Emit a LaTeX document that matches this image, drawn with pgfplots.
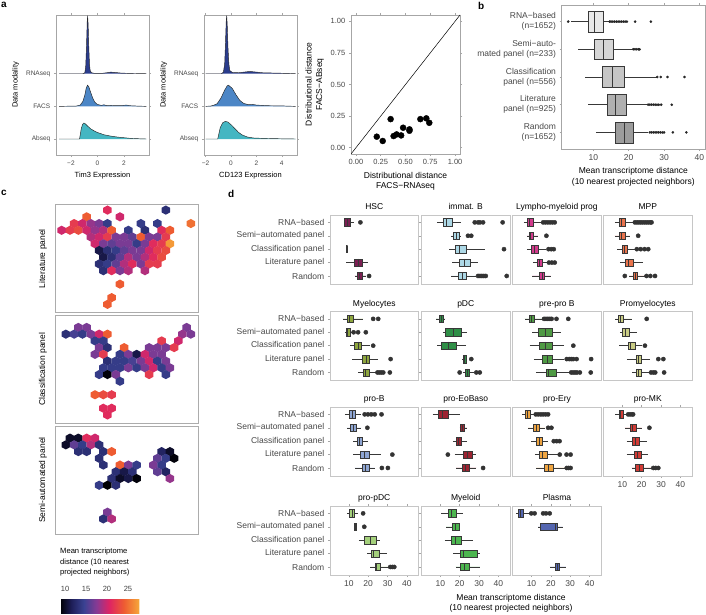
\documentclass[border=0pt]{standalone}
\usepackage{pgfplots}
\pgfplotsset{compat=1.18}
\usepgfplotslibrary{statistics}
\usepackage{fontspec}
\setmainfont{Liberation Sans}
\setsansfont{Liberation Sans}

\definecolor{cRNAs}{HTML}{2A3C8C}
\definecolor{cFACS}{HTML}{4C86C6}
\definecolor{cAbs}{HTML}{44B6C2}
\definecolor{cHSC}{HTML}{7B1F52}
\definecolor{cImmB}{HTML}{ADD8E6}
\definecolor{cLMP}{HTML}{D23A8C}
\definecolor{cMPP}{HTML}{E9734C}
\definecolor{cMyelo}{HTML}{8EA63E}
\definecolor{cPDC}{HTML}{2F8F47}
\definecolor{cPPB}{HTML}{4F9A44}
\definecolor{cPromy}{HTML}{C9CC84}
\definecolor{cProB}{HTML}{8FA6D3}
\definecolor{cEo}{HTML}{9C2331}
\definecolor{cEry}{HTML}{EEA441}
\definecolor{cMK}{HTML}{D23B35}
\definecolor{cPPDC}{HTML}{A4D07B}
\definecolor{cMyeloid}{HTML}{4CB64F}
\definecolor{cPlasma}{HTML}{5466B0}
\definecolor{gA}{HTML}{E8E8E8}
\definecolor{gB}{HTML}{D6D6D6}
\definecolor{gC}{HTML}{C6C6C6}
\definecolor{gD}{HTML}{B0B0B0}
\definecolor{gE}{HTML}{9C9C9C}

\pgfplotsset{colormap={hexmap}{rgb255(8.8)=(0,0,4) rgb255(11.5)=(30,30,88) rgb255(14.5)=(58,66,146) rgb255(17.5)=(135,58,148) rgb255(20.5)=(222,36,100) rgb255(24)=(238,92,50) rgb255(27.7)=(246,168,58)}}

\pgfdeclareplotmark{hexm}{%
  \pgfpathmoveto{\pgfqpoint{0pt}{4.6pt}}%
  \pgfpathlineto{\pgfqpoint{4.25pt}{2.3pt}}%
  \pgfpathlineto{\pgfqpoint{4.25pt}{-2.3pt}}%
  \pgfpathlineto{\pgfqpoint{0pt}{-4.6pt}}%
  \pgfpathlineto{\pgfqpoint{-4.25pt}{-2.3pt}}%
  \pgfpathlineto{\pgfqpoint{-4.25pt}{2.3pt}}%
  \pgfpathclose
  \pgfusepathqfill}

\pgfplotsset{
  base/.style={scale only axis, anchor=north west, tick align=outside, major tick length=2.2pt,
    /pgf/number format/assume math mode=true,
    tick style={draw=gray!70, line width=0.5pt},
    tick label style={font=\fontsize{8.5}{10}\selectfont, text=black!72},
    label style={font=\fontsize{8.5}{10.5}\selectfont},
    axis line style={draw=gray!70, line width=0.7pt}},
  dpanel/.style={base, width=88.5pt, height=69pt, xmin=0.3, xmax=46, ymin=0.45, ymax=5.6, y dir=reverse,
    xtick=\empty, ytick=\empty, axis line style={draw=gray!45, line width=0.8pt},
    title style={font=\fontsize{8.5}{10}\selectfont, at={(0.5,1)}, anchor=base, yshift=-0.5pt},
    boxplot/box extend=0.55, boxplot/whisker extend=0, boxplot/every median/.style={line width=0.9pt}},
  dl/.style={ytick={1,2,3,4,5}, yticklabels={RNA−based,Semi−automated panel,Classification panel,Literature panel,Random}},
  db/.style={xtick={10,20,30,40}},
  hexax/.style={base, width=142.6pt, height=108pt, xmin=-0.43, xmax=33.8, ymin=-0.8, ymax=15.24, y dir=reverse,
    xtick=\empty, ytick=\empty, axis line style={draw=gray!65, line width=0.8pt},
    colormap name=hexmap, point meta min=8.8, point meta max=27.7,
    ylabel style={at={(axis description cs:-0.09,0.5)}, anchor=center, rotate=0}},
  ridge/.style={base, width=93pt, height=140pt, ymin=0.51, ymax=4.8, ytick={1,2,3}, yticklabels={Abseq,FACS,RNAseq},
    ylabel={Data modality}, axis line style={draw=gray!70, line width=0.8pt},
    tick label style={font=\fontsize{6.5}{7}\selectfont}, label style={font=\fontsize{7.5}{8}\selectfont}},
}

\newcommand{\bx}[7]{\addplot[boxplot prepared={draw position=#1,lower whisker=#2,lower quartile=#3,median=#4,upper quartile=#5,upper whisker=#6}, fill=#7, draw=black!78, line width=0.45pt] coordinates {};}
\newcommand{\ol}[1]{\addplot[only marks, mark=*, mark size=2.1pt, mark options={fill=black!80, draw=black!80}] coordinates {#1};}
\newcommand{\olb}[1]{\addplot[only marks, mark=*, mark size=1.1pt, mark options={fill=black!85, draw=black!85}] coordinates {#1};}

\begin{document}
\begin{tikzpicture}[x=1pt,y=1pt]
\useasboundingbox (0,0) rectangle (706,-615);

% panel letters
\node[anchor=north west, inner sep=0pt, font=\bfseries\fontsize{10}{10}\selectfont] at (1,-1.5) {a};
\node[anchor=north west, inner sep=0pt, font=\bfseries\fontsize{10}{10}\selectfont] at (478,-2) {b};
\node[anchor=north west, inner sep=0pt, font=\bfseries\fontsize{10}{10}\selectfont] at (1,-190) {c};
\node[anchor=north west, inner sep=0pt, font=\bfseries\fontsize{10}{10}\selectfont] at (228,-190) {d};

%================ panel a: ridge Tim3
\begin{axis}[ridge, at={(56pt,-15pt)}, xmin=-3.13, xmax=3.9, xtick={-2,0,2}, xticklabels={−2,0,2}, xlabel={Tim3 Expression}]
\addplot[fill=cRNAs, draw=black!85, line width=0.45pt] table[x=x, y expr=\thisrow{h}+3] {
x h
-2.9 0
-1.1 0
-0.95 0.03
-0.88 0.25
-0.82 0.9
-0.77 1.6
-0.74 1.78
-0.7 1.5
-0.65 0.8
-0.6 0.3
-0.55 0.1
-0.45 0.03
-0.2 0.01
0.3 0.01
0.7 0.03
1.0 0.05
1.3 0.04
1.8 0.02
2.5 0.01
3.7 0
};
\addplot[fill=cFACS, draw=black!85, line width=0.45pt] table[x=x, y expr=\thisrow{h}+2] {
x h
-2.9 0
-1.6 0.01
-1.3 0.04
-1.1 0.15
-0.95 0.35
-0.85 0.55
-0.75 0.65
-0.65 0.6
-0.5 0.42
-0.35 0.25
-0.2 0.13
0 0.06
0.3 0.03
0.5 0.05
0.7 0.02
1.0 0.03
1.4 0.02
1.7 0.02
2.2 0.04
2.5 0.02
3.0 0.01
3.7 0
};
\addplot[fill=cAbs, draw=black!85, line width=0.45pt] table[x=x, y expr=\thisrow{h}+1] {
x h
-2.9 0
-1.35 0
-1.3 0.12
-1.22 0.32
-1.12 0.45
-1.02 0.49
-0.9 0.46
-0.7 0.38
-0.5 0.31
-0.25 0.25
0 0.2
0.5 0.13
1.0 0.09
1.5 0.06
2.0 0.04
2.5 0.02
3.0 0.01
3.7 0
};
\end{axis}

%================ panel a: ridge CD123
\begin{axis}[ridge, at={(204pt,-15pt)}, xmin=-2.13, xmax=5.2, xtick={-2,0,2,4}, xticklabels={−2,0,2,4}, xlabel={CD123 Expression}]
\addplot[fill=cRNAs, draw=black!85, line width=0.45pt] table[x=x, y expr=\thisrow{h}+3] {
x h
-2.0 0
-0.75 0
-0.6 0.05
-0.5 0.3
-0.44 0.9
-0.38 1.6
-0.34 1.78
-0.3 1.5
-0.24 0.8
-0.17 0.3
-0.1 0.1
0.1 0.04
0.6 0.03
1.0 0.05
1.5 0.07
2.0 0.05
2.5 0.03
3.5 0.02
4.5 0.01
5.1 0
};
\addplot[fill=cFACS, draw=black!85, line width=0.45pt] table[x=x, y expr=\thisrow{h}+2] {
x h
-2.0 0
-1.6 0.01
-1.4 0.03
-1.1 0.08
-0.8 0.25
-0.5 0.5
-0.3 0.63
-0.2 0.65
0.1 0.55
0.4 0.35
0.7 0.18
1.0 0.09
1.4 0.05
1.7 0.06
2.0 0.04
2.5 0.03
3.0 0.02
4.0 0.015
5.1 0
};
\addplot[fill=cAbs, draw=black!85, line width=0.45pt] table[x=x, y expr=\thisrow{h}+1] {
x h
-2.0 0
-1.05 0
-0.98 0.12
-0.85 0.35
-0.65 0.5
-0.45 0.54
-0.25 0.52
0 0.44
0.3 0.32
0.6 0.2
0.9 0.12
1.3 0.06
1.8 0.03
2.5 0.02
3.5 0.01
5.1 0
};
\end{axis}

%================ panel a: scatter
\begin{axis}[base, at={(351pt,-15pt)}, width=109pt, height=139pt, xmin=-0.05, xmax=1.05, ymin=-0.05, ymax=1.05,
  xtick={0,0.25,0.5,0.75,1}, xticklabels={0.00,0.25,0.50,0.75,1.00},
  ytick={0,0.25,0.5,0.75,1}, yticklabels={0.00,0.25,0.50,0.75,1.00},
  tick label style={font=\fontsize{7.5}{8}\selectfont},
  xlabel={Distributional distance\\FACS−RNAseq}, ylabel={Distributional distance\\FACS−ABseq},
  xlabel style={align=center}, ylabel style={align=center}]
\addplot[black, line width=0.5pt] coordinates {(-0.05,-0.05) (1.05,1.05)};
\addplot[only marks, mark=*, mark size=3pt, black] coordinates {(0.21,0.087) (0.27,0.053) (0.38,0.092) (0.41,0.105) (0.35,0.226) (0.456,0.097) (0.476,0.158) (0.54,0.134) (0.54,0.145) (0.65,0.226) (0.71,0.232) (0.74,0.197)};
\end{axis}

%================ panel b
\begin{axis}[base, at={(561.7pt,-5pt)}, width=143.3pt, height=144pt, xmin=1.05, xmax=41.6, ymin=0.4, ymax=5.6, y dir=reverse,
  xtick={10,20,30,40}, ytick={1,2,3,4,5},
  yticklabels={{RNA−based\\(n=1652)},{Semi−auto-\\mated panel (n=233)},{Classification\\panel (n=556)},{Literature\\panel (n=925)},{Random\\(n=1652)}},
  yticklabel style={align=right},
  xlabel={Mean transcriptome distance\\(10 nearest projected neighbors)}, xlabel style={align=center},
  boxplot/box extend=0.75, boxplot/whisker extend=0, boxplot/every median/.style={line width=0.7pt}]
\bx{1}{3.8}{8.6}{10.2}{12.7}{14.3}{gA}
\bx{2}{5.8}{10.2}{12.7}{15.7}{20.9}{gB}
\bx{3}{7.6}{12.5}{15.4}{18.8}{27.9}{gC}
\bx{4}{8.6}{13.8}{16.3}{19.3}{25.1}{gD}
\bx{5}{10.7}{16.1}{18.7}{21.2}{25.6}{gE}
\olb{(2.9,1) (14.6,1) (15,1) (15.5,1) (16,1) (16.5,1) (17,1) (17.5,1) (18,1) (18.5,1) (19,1) (19.5,1) (21.8,1) (26.3,1)}
\olb{(21.3,2) (21.8,2) (22.3,2) (22.8,2) (23.1,2)}
\olb{(28.1,3) (29.1,3) (31,3) (35.8,3)}
\olb{(25.5,4) (26,4) (26.5,4) (27,4) (27.5,4) (28,4) (28.5,4) (29.2,4) (32.2,4)}
\olb{(26,5) (26.5,5) (27,5) (27.5,5) (28,5) (28.5,5) (29,5) (29.5,5) (30,5) (32.5,5) (36.3,5)}
\end{axis}

%================ panel c: hex maps
\begin{axis}[hexax, at={(55.7pt,-204.7pt)}, ylabel={Literature panel}]
\addplot[scatter, only marks, mark=hexm, point meta=explicit, scatter/use mapped color={draw=mapped color, fill=mapped color}] table[x=c, y=r, meta=v] {
c r v
12 0 21
26 0 13
7 1 24
15 1 20
4 2 22
6 2 20
8 2 18
10 2 17
12 2 14
20 2 14
24 2 14
32 2 25
1 3 20
3 3 22
5 3 23
7 3 20
9 3 18
11 3 19
13 3 24
17 3 14
21 3 13
25 3 21
27 3 24
8 4 19
10 4 20
12 4 22
14 4 17
16 4 17
18 4 16
20 4 24
22 4 17
24 4 17
26 4 22
9 5 20
11 5 17
13 5 16
15 5 17
17 5 17
19 5 14
21 5 17
23 5 21
25 5 22
27 5 27
10 6 11
12 6 13
14 6 14
16 6 16
18 6 17
20 6 17
22 6 20
24 6 22
26 6 23
11 7 11
13 7 13
15 7 16
17 7 19
19 7 17
21 7 19
23 7 21
25 7 23
10 8 13
12 8 14
14 8 16
16 8 19
18 8 21
20 8 17
22 8 22
24 8 22
11 9 13
13 9 21
15 9 17
17 9 19
21 9 19
15 11 24
13 13 24
12 14 24
};
\end{axis}

\begin{axis}[hexax, at={(55.7pt,-315.3pt)}, ylabel={Classification panel}]
\addplot[scatter, only marks, mark=hexm, point meta=explicit, scatter/use mapped color={draw=mapped color, fill=mapped color}] table[x=c, y=r, meta=v] {
c r v
5 1 17
7 1 17
31 1 17
2 2 13
4 2 15
6 2 14
8 2 17
10 2 20
12 2 24
30 2 18
32 2 17
9 3 14
11 3 14
25 3 22
29 3 20
10 4 17
12 4 13
16 4 24
22 4 17
24 4 17
26 4 17
28 4 22
9 5 17
11 5 22
15 5 14
17 5 17
19 5 11
21 5 20
23 5 17
25 5 17
12 6 13
14 6 14
16 6 14
18 6 15
20 6 17
22 6 20
24 6 14
26 6 17
11 7 14
13 7 14
15 7 14
17 7 17
19 7 14
21 7 17
23 7 20
25 7 14
27 7 17
10 8 14
12 8 9
14 8 17
22 8 22
26 8 14
15 9 14
9 11 24
11 11 23
13 11 22
11 13 21
13 13 21
12 14 21
};
\end{axis}

\begin{axis}[hexax, at={(55.7pt,-426pt)}, ylabel={Semi-automated panel}]
\addplot[scatter, only marks, mark=hexm, point meta=explicit, scatter/use mapped color={draw=mapped color, fill=mapped color}] table[x=c, y=r, meta=v] {
c r v
3 1 10
5 1 10
7 1 21
9 1 20
2 2 10
4 2 16
6 2 14
8 2 19
10 2 13
5 3 13
7 3 13
11 3 13
13 3 24
25 3 12
27 3 10
10 4 13
24 4 16
26 4 14
28 4 9
11 5 13
15 5 24
17 5 17
19 5 14
23 5 17
25 5 14
14 6 13
16 6 11
18 6 13
24 6 16
26 6 12
13 7 13
15 7 10
17 7 11
19 7 9
27 7 18
10 8 14
12 8 8.5
14 8 13
12 12 17
11 13 13
13 13 19
};
\end{axis}

% colour bar
\node[anchor=north west, align=left, inner sep=0pt, font=\fontsize{7.6}{10.4}\selectfont] at (60,-548) {Mean transcriptome\\distance (10 nearest\\projected neighbors)};
\begin{axis}[hide axis, scale only axis, at={(60pt,-605pt)}, anchor=south west, width=79.3pt, height=18.3pt,
  xmin=0, xmax=1, ymin=0, ymax=1,
  colormap name=hexmap, point meta min=8.8, point meta max=27.7, colorbar horizontal,
  colorbar style={at={(parent axis.south west)}, anchor=south west, width=79.3pt, height=18.3pt, scale only axis,
    xtick={10,15,20,25}, xticklabel pos=upper, major tick length=0pt, axis line style={draw=none},
    /pgf/number format/assume math mode=true,
    tick label style={font=\fontsize{7.5}{8}\selectfont, text=black!75}}]
\addplot[draw=none] coordinates {(0,0)};
\end{axis}

%================ panel d
% row 1
\begin{axis}[dpanel, dl, at={(330pt,-215pt)}, title={HSC}]
\bx{1}{7.8}{7.8}{9.5}{10.8}{12.5}{cHSC}
\bx{3}{9}{9}{9}{9}{9}{cHSC}
\bx{4}{8.7}{12.7}{14.8}{17}{20}{cHSC}
\bx{5}{13}{14.4}{15.6}{17}{19.1}{cHSC}
\ol{(16,1) (20.5,5)}
\end{axis}
\begin{axis}[dpanel, at={(421.5pt,-215pt)}, title={immat. B}]
\bx{1}{8.1}{11.3}{13.4}{16.1}{20.8}{cImmB}
\bx{2}{15.5}{16.8}{18.2}{19.6}{20.8}{cImmB}
\bx{3}{14.5}{17.9}{19.8}{23.4}{33}{cImmB}
\bx{4}{16.1}{20}{22.6}{25.2}{29.5}{cImmB}
\bx{5}{15.6}{19.1}{21.3}{23.4}{28.6}{cImmB}
\ol{(27.8,1) (29.5,1) (30.5,1) (32.1,1) (42.2,1) (24.3,2) (26,2) (42.9,3) (29.5,5) (30.5,5) (31.5,5) (32.5,5) (33.5,5) (44.3,5)}
\end{axis}
\begin{axis}[dpanel, at={(512.7pt,-215pt)}, title={Lympho-myeloid prog}]
\bx{1}{5.9}{7.6}{9.1}{10.7}{15.1}{cLMP}
\bx{2}{7.6}{8.7}{9.7}{10.7}{13.4}{cLMP}
\bx{3}{7.6}{9.9}{11.7}{13.4}{17.7}{cLMP}
\bx{4}{10.7}{13}{14.2}{15.3}{18.5}{cLMP}
\bx{5}{10.4}{14.2}{15.6}{16.8}{19.9}{cLMP}
\ol{(16,1) (17.2,1) (18.4,1) (19.6,1) (20.8,1) (22,1) (17.7,2) (18.8,3) (20.2,3) (21.5,3) (19,4) (20.5,4) (22,4)}
\end{axis}
\begin{axis}[dpanel, at={(603.5pt,-215pt)}, title={MPP}]
\bx{1}{6.1}{8.3}{9.5}{11.3}{15.6}{cMPP}
\bx{2}{6.1}{8.3}{9.5}{11.3}{13.9}{cMPP}
\bx{3}{7.5}{10.1}{11.3}{12.7}{16.5}{cMPP}
\bx{4}{8.7}{11.3}{13}{15.6}{20.8}{cMPP}
\bx{5}{13.5}{15.6}{16.9}{17.9}{21.7}{cMPP}
\ol{(16.5,1) (17.5,1) (18.5,1) (19.5,1) (20.5,1) (21.5,1) (22.5,1) (23.5,1) (24.5,1) (25.1,1) (18.2,2) (17.5,3) (19.5,3) (21.5,3) (23.4,3) (11.3,5) (22.5,5) (24.5,5) (26.9,5)}
\end{axis}

% row 2
\begin{axis}[dpanel, dl, at={(330pt,-311.5pt)}, title={Myelocytes}]
\bx{1}{6.9}{9}{10.4}{12.5}{17.4}{cMyelo}
\bx{2}{8}{8.7}{9.5}{10.8}{11.5}{cMyelo}
\bx{3}{10.8}{13}{14.8}{16.5}{20.8}{cMyelo}
\bx{4}{11.8}{17}{19.1}{20.8}{25.2}{cMyelo}
\bx{5}{14.8}{17.4}{18.8}{20.5}{24.3}{cMyelo}
\ol{(22.6,1) (25.2,1) (12.5,2) (14.8,2) (18.8,2) (22.6,3) (31.6,4) (24.8,5) (25.8,5) (26.8,5) (27.8,5) (31.2,5)}
\end{axis}
\begin{axis}[dpanel, at={(421.5pt,-311.5pt)}, title={pDC}]
\bx{1}{7.8}{9.2}{10.4}{11.6}{12.6}{cPDC}
\bx{2}{11.3}{12.6}{16.8}{20.8}{23.8}{cPDC}
\bx{3}{8.4}{10.4}{14}{18.2}{23.3}{cPDC}
\bx{4}{21.2}{21.7}{22.6}{23.4}{23.9}{cPDC}
\bx{5}{21.5}{23.1}{24}{24.8}{27.5}{cPDC}
\ol{(26,4) (20,5) (28.6,5) (30.4,5)}
\end{axis}
\begin{axis}[dpanel, at={(512.7pt,-311.5pt)}, title={pre-pro B}]
\bx{1}{6.4}{8.7}{9.9}{11.2}{15.9}{cPPB}
\bx{2}{10.4}{13.3}{17.4}{20.8}{25.2}{cPPB}
\bx{3}{9.1}{14.2}{17.4}{20.8}{26.8}{cPPB}
\bx{4}{11.1}{15.6}{18.1}{20.8}{26.8}{cPPB}
\bx{5}{12.2}{17.4}{18.6}{22.6}{29.9}{cPPB}
\ol{(16.5,1) (17.5,1) (18.5,1) (19.5,1) (20.4,1) (22.9,1) (29,1) (31.6,3) (28.2,4) (29.5,4) (30.5,4) (31.5,4) (33.3,4) (40.8,4) (30.5,5) (31.5,5) (32.5,5) (33.5,5) (35,5) (40.6,5)}
\end{axis}
\begin{axis}[dpanel, at={(603.5pt,-311.5pt)}, title={Promyelocytes}]
\bx{1}{6.4}{7.8}{9}{10.4}{14.8}{cPromy}
\bx{2}{8.7}{10.1}{11.8}{13.5}{17.4}{cPromy}
\bx{3}{8.4}{13}{14.4}{16.5}{20}{cPromy}
\bx{4}{12.2}{17}{18.2}{20}{24.3}{cPromy}
\bx{5}{14.8}{17.4}{18.6}{20}{24.3}{cPromy}
\ol{(22.6,1) (21.7,3) (28.6,4) (31.2,4) (24.8,5) (26,5) (27,5) (31.6,5)}
\end{axis}

% row 3
\begin{axis}[dpanel, dl, at={(330pt,-407pt)}, title={pro-B}]
\bx{1}{7.8}{10.1}{11.8}{13.5}{16.5}{cProB}
\bx{2}{9}{10.8}{12.5}{13.9}{16.5}{cProB}
\bx{3}{12.2}{14.2}{15.3}{17}{20}{cProB}
\bx{4}{12.2}{16.1}{18.2}{20.5}{26.4}{cProB}
\bx{5}{13}{16.8}{18.8}{20.5}{23.4}{cProB}
\ol{(18.2,1) (19.9,1) (21.6,1) (23.4,1) (26.9,1) (19.6,2) (32.5,4) (27.1,5) (30.2,5)}
\end{axis}
\begin{axis}[dpanel, at={(421.5pt,-407pt)}, title={pro-EoBaso}]
\bx{1}{6.1}{8.7}{11}{13.9}{20}{cEo}
\bx{2}{20}{20.5}{21.3}{22.2}{23.8}{cEo}
\bx{3}{16.5}{18.2}{19.6}{20.8}{23.8}{cEo}
\bx{4}{17.4}{21.7}{24}{26.6}{28.3}{cEo}
\bx{5}{18.2}{21.4}{23.1}{24.8}{28.6}{cEo}
\ol{(13.9,4) (32.1,5)}
\end{axis}
\begin{axis}[dpanel, at={(512.7pt,-407pt)}, title={pro-Ery}]
\bx{1}{5.2}{6.8}{7.8}{9.4}{11.6}{cEry}
\bx{2}{8.2}{10.7}{12.5}{14.2}{16.8}{cEry}
\bx{3}{9.9}{12.2}{13.9}{15.6}{18.5}{cEry}
\bx{4}{11.6}{14.2}{15.6}{18.1}{23.8}{cEry}
\bx{5}{12.5}{16.8}{18.6}{21.2}{27.8}{cEry}
\ol{(12.2,1) (13.5,1) (14.8,1) (16,1) (17.3,1) (18.6,1) (18.6,2) (20.3,2) (21.5,3) (23,3) (24.5,3) (24.6,4) (28.1,4) (30.2,4) (28.2,5) (29.2,5) (30.2,5)}
\end{axis}
\begin{axis}[dpanel, db, at={(603.5pt,-407pt)}, title={pro-MK}]
\bx{1}{6.4}{8.2}{9}{10.4}{12.2}{cMK}
\bx{2}{11.3}{13.9}{15.3}{17}{20}{cMK}
\bx{3}{12.2}{15.3}{17}{18.8}{22.6}{cMK}
\bx{4}{12.2}{16}{17.9}{20}{23.4}{cMK}
\bx{5}{14.8}{16.8}{19.1}{20.8}{25.7}{cMK}
\ol{(13,1) (14,1) (15,1) (15.6,1) (24,2) (26,5) (27.3,5) (28.6,5)}
\end{axis}

% row 4
\begin{axis}[dpanel, dl, db, at={(330pt,-506pt)}, title={pro-pDC}]
\bx{1}{9}{10.4}{11.8}{13}{14.8}{cPPDC}
\bx{2}{12.7}{12.7}{13.3}{13.9}{13.9}{cPPDC}
\bx{3}{15.1}{18.2}{21.2}{24.3}{26}{cPPDC}
\bx{4}{19.6}{21.7}{22.8}{25.5}{29.7}{cPPDC}
\bx{5}{21.2}{23.4}{24.3}{26.4}{31.2}{cPPDC}
\ol{(17.4,1) (18,2) (31.4,5) (32.5,5) (33.5,5)}
\end{axis}
\begin{axis}[dpanel, db, at={(421.5pt,-506pt)}, title={Myeloid}]
\bx{1}{10.4}{13.9}{15.9}{18.2}{21.7}{cMyeloid}
\bx{2}{13}{16.1}{17.9}{19.8}{20}{cMyeloid}
\bx{3}{12.2}{15.6}{17.9}{20.8}{26.9}{cMyeloid}
\bx{4}{16.8}{20.5}{22.2}{29}{30.4}{cMyeloid}
\bx{5}{17.9}{20.3}{22.6}{24.8}{30.4}{cMyeloid}
\end{axis}
\begin{axis}[dpanel, db, at={(512.7pt,-506pt)}, title={Plasma}]
\bx{1}{2.1}{2.9}{4.2}{5.5}{9.4}{cPlasma}
\bx{2}{13.4}{14.7}{22.6}{23.2}{26.1}{cPlasma}
\bx{5}{19.5}{22.1}{23.3}{24.3}{27.8}{cPlasma}
\ol{(9.9,1) (11.6,1) (16,1) (17.5,1) (19.4,1)}
\end{axis}

\node[anchor=north, align=center, inner sep=0pt, font=\fontsize{8.5}{10.5}\selectfont] at (511,-594) {Mean transcriptome distance\\(10 nearest projected neighbors)};

\end{tikzpicture}
\end{document}
